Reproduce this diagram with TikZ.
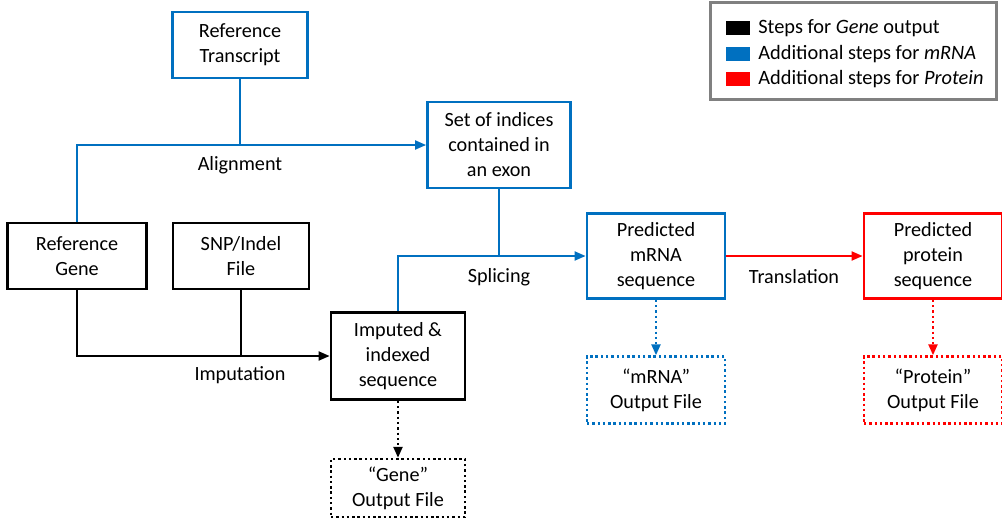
\documentclass[tikz,border=0pt]{standalone}
\usepackage{fontspec}
\setmainfont{Carlito}
\usepackage{tikz}
\usetikzlibrary{positioning,arrows.meta}
\definecolor{mrnablue}{RGB}{0,112,192}
\definecolor{protred}{RGB}{255,0,0}

\begin{document}
\begin{tikzpicture}[x=0.02cm, y=-0.02cm,
	font=\fontsize{11.5}{14.2}\selectfont,
	stepnode/.style={rectangle, draw=black, line width=1.6pt, align=center, inner sep=1pt},
	outnode/.style={rectangle, draw=black, line width=1.4pt, dash pattern=on 1.4pt off 1.6pt, align=center, inner sep=1pt},
	link/.style={line width=1.1pt},
	dotlink/.style={line width=1.3pt, dash pattern=on 1.3pt off 1.7pt},
	pointer/.style={-{Triangle[length=2.2mm, width=1.8mm]}},
	swatch/.style={rectangle, minimum width=0.48cm, minimum height=0.27cm, inner sep=0pt},
	]
	\useasboundingbox (0,0) rectangle (1002,521);
	
	%Nodes
	\node[stepnode, draw=mrnablue, minimum width=2.7cm, minimum height=1.32cm] (RefTranscript) at (240,45) {Reference\\Transcript};
	\node[stepnode, draw=mrnablue, minimum width=2.86cm, minimum height=1.72cm] (Indices) at (499,145) {Set of indices\\contained in\\an exon};
	\node[stepnode, minimum width=2.78cm, minimum height=1.32cm] (RefGene) at (77,256) {Reference\\Gene};
	\node[stepnode, minimum width=2.72cm, minimum height=1.32cm] (SNPFile) at (241,256) {SNP/Indel\\File};
	\node[stepnode, minimum width=2.68cm, minimum height=1.74cm] (Imputed) at (398,356) {Imputed \&\\indexed\\sequence};
	\node[outnode, minimum width=2.68cm, minimum height=1.16cm] (GeneOut) at (398,488) {``Gene''\\Output File};
	\node[stepnode, draw=mrnablue, minimum width=2.76cm, minimum height=1.7cm] (mRNA) at (656,256) {Predicted\\mRNA\\sequence};
	\node[outnode, draw=mrnablue, minimum width=2.76cm, minimum height=1.34cm] (mRNAOut) at (656,390) {``mRNA''\\Output File};
	\node[stepnode, draw=protred, minimum width=2.76cm, minimum height=1.7cm] (Protein) at (933,256) {Predicted\\protein\\sequence};
	\node[outnode, draw=protred, minimum width=2.76cm, minimum height=1.34cm] (ProteinOut) at (933,390) {``Protein''\\Output File};
	
	%Labels
	\node (Alignment) at (240,165) {Alignment};
	\node (Splicing) at (499,277) {Splicing};
	\node (Imputation) at (240,375) {Imputation};
	\node (Translation) at (794,277) {Translation};
	
	%Legend
	\node[rectangle, draw=black!50, line width=1.7pt, minimum width=5.74cm, minimum height=1.96cm] (Legend) at (853.5,51) {};
	\node[swatch, fill=black] (KeyGene) at (738,28) {};
	\node[swatch, fill=mrnablue] (KeymRNA) at (738,54) {};
	\node[swatch, fill=protred] (KeyProtein) at (738,79) {};
	\node[anchor=west, font=\fontsize{11.6}{13}\selectfont, inner sep=0pt] (TextGene) at (758,28) {Steps for \textit{Gene} output};
	\node[anchor=west, font=\fontsize{11.6}{13}\selectfont, inner sep=0pt] (TextmRNA) at (758,54) {Additional steps for \textit{mRNA}};
	\node[anchor=west, font=\fontsize{11.6}{13}\selectfont, inner sep=0pt] (TextProtein) at (758,79) {Additional steps for \textit{Protein}};
	
	%Lines
	\draw[link, mrnablue, pointer] (RefGene.north) |- (Indices.west);
	\draw[link, mrnablue] (RefTranscript.south) -- (RefTranscript.south |- Indices.west);
	\draw[link, mrnablue, pointer] (Imputed.north) |- (mRNA.west);
	\draw[link, mrnablue] (Indices.south) -- (Indices.south |- mRNA.west);
	\draw[link, pointer] (RefGene.south) |- (Imputed.west);
	\draw[link] (SNPFile.south) -- (SNPFile.south |- Imputed.west);
	\draw[link, protred, pointer] (mRNA.east) -- (Protein.west);
	\draw[dotlink, pointer] (Imputed.south) -- (GeneOut.north);
	\draw[dotlink, mrnablue, pointer] (mRNA.south) -- (mRNAOut.north);
	\draw[dotlink, protred, pointer] (Protein.south) -- (ProteinOut.north);
	
\end{tikzpicture}
\end{document}
